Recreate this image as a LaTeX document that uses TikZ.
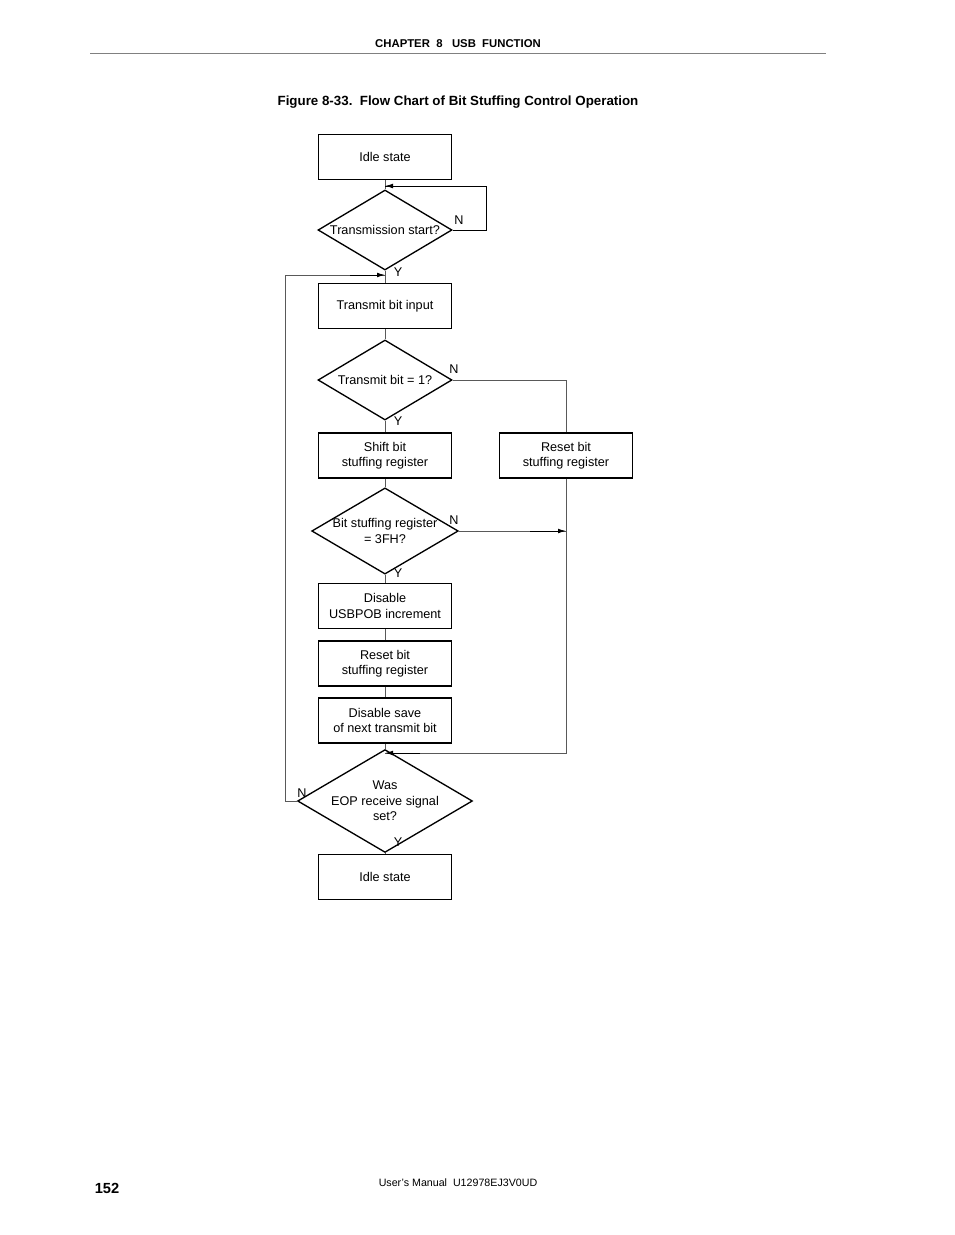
\documentclass[tikz,border=0pt]{standalone}
\usepackage{fontspec}
\setmainfont{Liberation Sans}
\usetikzlibrary{shapes.geometric,arrows.meta}
\begin{document}
\begin{tikzpicture}[x=0.75pt,y=-0.75pt,
  box/.style={draw,line width=1.1pt,minimum width=133*0.75pt,minimum height=45*0.75pt,align=center,font=\fontsize{9.5}{11.5}\selectfont},
  dia/.style={draw,line width=1pt,diamond,aspect=1.7,minimum width=134*0.75pt,minimum height=80*0.75pt,inner sep=0pt,align=center,font=\fontsize{9.5}{11.5}\selectfont},
  ln/.style={draw=gray!70!black,line width=0.5pt},
  fl/.style={draw=black,line width=0.6pt},
  tip/.style={-{Latex[length=6pt,width=3.5pt]},black,line width=0.6pt},
  lab/.style={font=\fontsize{9.5}{11}\selectfont,inner sep=1pt}]
\useasboundingbox (0,0) rectangle (954,1235);
\node[font=\bfseries\fontsize{8.5}{10}\selectfont] (hdr) at (458,44) {CHAPTER\ \ 8\ \ \ USB\ \ FUNCTION};
\draw[gray,line width=0.6pt] (90,53) -- (826,53);
\node[font=\bfseries\fontsize{10}{12}\selectfont] (ttl) at (458,102) {Figure 8-33.\ \ Flow Chart of Bit Stuffing Control Operation};
\node[font=\bfseries\fontsize{11}{13}\selectfont] (pg) at (107,1188) {152};
\node[font=\fontsize{8}{10}\selectfont] (ft) at (458,1183) {User's Manual\ \ U12978EJ3V0UD};

\node[box] (idle1) at (385,157) {Idle state};
\node[dia] (d1) at (385,230) {Transmission start?};
\node[box] (tbi) at (385,306) {Transmit bit input};
\node[dia] (d2) at (385,380) {Transmit bit = 1?};
\node[box] (shift) at (385,455.5) {Shift bit\\stuffing register};
\node[box] (reset1) at (566,455.5) {Reset bit\\stuffing register};
\node[dia] (d3) at (385,531) {Bit stuffing register\\= 3FH?};
\node[box] (dis) at (385,606) {Disable\\USBPOB increment};
\node[box] (reset2) at (385,663.5) {Reset bit\\stuffing register};
\node[box] (save) at (385,720.5) {Disable save\\of next transmit bit};
\node[dia] (d4) at (385,801) {Was\\EOP receive signal\\set?};
\node[box] (idle2) at (385,877) {Idle state};

\coordinate (m1) at (385,186);
\coordinate (m2) at (385,275);
\coordinate (m3) at (385,753);
\draw[ln] (idle1.south) -- (d1.north);
\draw[ln] (d1.south) -- (tbi.north);
\draw[ln] (tbi.south) -- (d2.north);
\draw[ln] (d2.south) -- (shift.north);
\draw[ln] (shift.south) -- (d3.north);
\draw[ln] (d3.south) -- (dis.north);
\draw[ln] (dis.south) -- (reset2.north);
\draw[ln] (reset2.south) -- (save.north);
\draw[ln] (save.south) -- (d4.north);
\draw[ln] (d4.south) -- (idle2.north);

% loops
\coordinate (c1a) at (486,230); \coordinate (c1b) at (486,186);
\draw[fl] (d1.east) -- (c1a) -- (c1b) -- (m1);
\draw[tip] (420,186) -- (m1);
\coordinate (c4a) at (285,801); \coordinate (c4b) at (285,275);
\draw[ln] (d4.west) -- (c4a) -- (c4b) -- (m2);
\draw[tip] (350,275) -- (m2);
\coordinate (c2a) at (566,380);
\draw[ln] (d2.east) -- (c2a) -- (reset1.north);
\coordinate (c3a) at (566,531);
\draw[ln] (d3.east) -- (c3a);
\draw[tip] (530,531) -- (c3a);
\coordinate (c5a) at (566,753);
\draw[ln] (reset1.south) -- (c5a) -- (m3);
\draw[tip] (420,753) -- (m3);

\node[lab] (n1) at (459,220) {N};
\node[lab] (y1) at (398,272) {Y};
\node[lab] (n2) at (454,369) {N};
\node[lab] (y2) at (398,421) {Y};
\node[lab] (n3) at (454,520) {N};
\node[lab] (y3) at (398,573) {Y};
\node[lab] (n4) at (302,793) {N};
\node[lab] (y4) at (398,842) {Y};
\end{tikzpicture}
\end{document}
